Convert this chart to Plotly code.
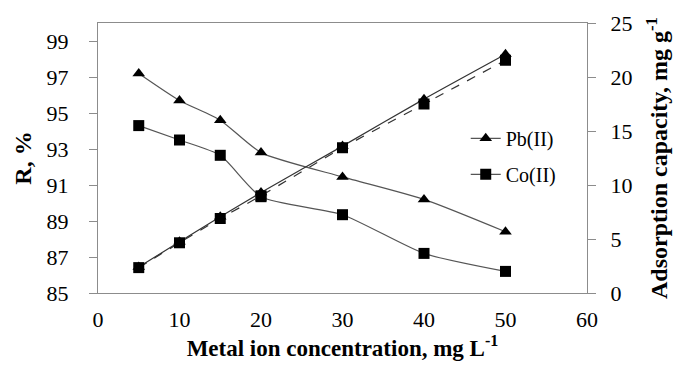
import plotly.graph_objects as go

conc = [5, 10, 15, 20, 30, 40, 50]
r_pb = [97.2, 95.7, 94.6, 92.8, 91.45, 90.2, 88.4]
r_co = [94.3, 93.5, 92.65, 90.35, 89.35, 87.2, 86.2]
q_pb = [2.4, 4.75, 7.05, 9.3, 13.6, 17.95, 22.1]
q_co = [2.35, 4.65, 6.9, 9.0, 13.45, 17.5, 21.55]

line_col = "#555555"
font_family = "Times New Roman, Liberation Serif, serif"

fig = go.Figure()
fig.add_trace(go.Scatter(x=conc, y=q_pb, yaxis="y2", mode="lines+markers", name="Pb(II)",
                         line=dict(color="#333333", width=1.2, shape="spline", smoothing=0.6),
                         marker=dict(symbol="triangle-up", size=11, color="black"), showlegend=False))
fig.add_trace(go.Scatter(x=conc, y=q_co, yaxis="y2", mode="lines+markers", name="Co(II)",
                         line=dict(color="#333333", width=1.2, dash="dash", shape="spline", smoothing=0.6),
                         marker=dict(symbol="square", size=11, color="black"), showlegend=False))
fig.add_trace(go.Scatter(x=conc, y=r_pb, mode="lines+markers", name="Pb(II)", legendgroup="pb",
                         line=dict(color=line_col, width=1.2, shape="spline", smoothing=0.6),
                         marker=dict(symbol="triangle-up", size=11, color="black")))
fig.add_trace(go.Scatter(x=conc, y=r_co, mode="lines+markers", name="Co(II)", legendgroup="co",
                         line=dict(color=line_col, width=1.2, shape="spline", smoothing=0.6),
                         marker=dict(symbol="square", size=11, color="black")))

axis_line = dict(showline=True, linecolor="#8c8c8c", linewidth=1, showgrid=False, zeroline=False,
                 automargin=False)

fig.update_layout(
    width=673, height=367,
    margin=dict(l=98, r=86, t=23, b=74, autoexpand=False),
    paper_bgcolor="white", plot_bgcolor="white",
    font=dict(family=font_family, size=22, color="black"),
    xaxis=dict(range=[0, 60], dtick=10, tick0=0, mirror=True, ticks="", ticklabelstandoff=7,
               title=dict(text="<b>Metal ion concentration, mg L<sup>-1</sup></b>", standoff=5,
                          font=dict(size=23)),
               **axis_line),
    yaxis=dict(range=[85, 100], tick0=85, dtick=2, ticks="outside", ticklen=8, tickcolor="#8c8c8c",
               ticklabelstandoff=16,
               title=dict(text="<b>R, %</b>", standoff=8, font=dict(size=24)),
               **axis_line),
    yaxis2=dict(range=[0, 25], dtick=5, overlaying="y", side="right", ticks="outside", ticklen=8,
                tickcolor="#8c8c8c", ticklabelstandoff=10,
                title=dict(text="<b>Adsorption capacity, mg g<sup>-1</sup></b>", standoff=18,
                           font=dict(size=24)),
                **axis_line),
    legend=dict(x=0.752, y=0.645, xanchor="left", yanchor="top", bgcolor="rgba(0,0,0,0)",
                font=dict(size=20), traceorder="grouped", tracegroupgap=7),
)

fig.write_html("out.html", config={"displayModeBar": False},
               post_script="document.body.style.margin='0';")
